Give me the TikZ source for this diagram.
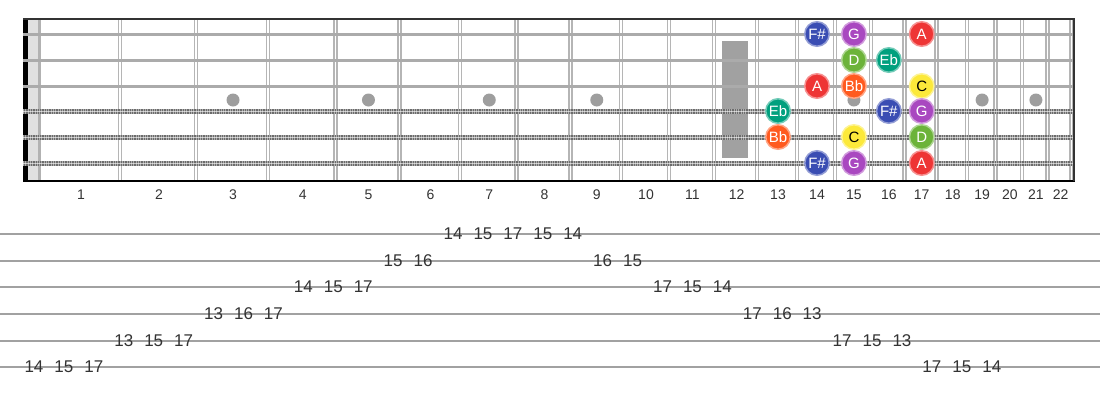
\documentclass[tikz,border=0pt]{standalone}
\usepackage{fontspec}
\setmainfont{Liberation Sans}
\usetikzlibrary{positioning}
\definecolor{noteFs}{HTML}{3A4DB3}
\definecolor{noteG}{HTML}{A948C0}
\definecolor{noteA}{HTML}{EE3535}
\definecolor{noteD}{HTML}{6CB33A}
\definecolor{noteEb}{HTML}{00A07E}
\definecolor{noteBb}{HTML}{FF5A1F}
\definecolor{noteC}{HTML}{FCE93A}
\definecolor{inkgray}{HTML}{333333}

\begin{document}
\begin{tikzpicture}[
		x=1pt, y=-1pt,
		every node/.style={inner sep=0pt, text=inkgray},
		fretnum/.style={font=\fontsize{14}{14}\selectfont},
		tabnum/.style={font=\fontsize{17}{17}\selectfont},
		notedot/.style={circle, minimum size=24.5pt, line width=1.5pt, fill=#1, draw=#1!55!white, text=white, font=\fontsize{15}{15}\selectfont},
		inlay/.style={circle, fill=black!38, minimum size=13pt}
	]
  \useasboundingbox (0,0) rectangle (1100,400);
  \fill[black] (23,19) rectangle (28,181);
  \fill[black!12] (28,19) rectangle (41,181);
  \draw[black!30, line width=3] (39,19) -- (39,181);
  \foreach \n in {1,...,22} {
    \pgfmathsetmacro\fx{40+1434*(1-pow(2,-\n/12))}
    \pgfmathsetmacro\px{40+1434*(1-pow(2,-(\n-1)/12))}
    \draw[black!29, line width=4.5] (\fx,19) -- (\fx,181);
    \draw[white, line width=1.5] (\fx,19) -- (\fx,181);
    \node (fl\n) [fretnum] at ({(\fx+\px)/2+1},195) {\n};
  }
  \foreach \f in {3,5,7,9,15,19,21}
    \node (dot\f) [inlay] at (fl\f |- 0,100) {};
  \fill[black!37] (722,41) rectangle (748,158);
  \foreach \s/\y in {1/34, 2/60, 3/86} {
    \coordinate (s\s) at (0,\y);
    \draw[black!33, line width=3] (23,\y) -- (1073,\y);
  }
  \foreach \s/\y in {4/111, 5/137, 6/163} {
    \coordinate (s\s) at (0,\y);
    \draw[black!58, line width=5] (23,\y) -- (1073,\y);
    \draw[white, line width=5, dash pattern=on 1pt off 1.3pt, opacity=0.45] (23,\y) -- (1073,\y);
    \draw[white, line width=0.8, opacity=0.6] (23,\y) -- (1073,\y);
  }
  \draw[black!80, line width=2.5] (23,19) -- (1075,19);
  \draw[black, line width=2] (23,181) -- (1075,181);
  \draw[black!80, line width=2] (1074,19) -- (1074,181);

  \node (e1f14) [notedot=noteFs] at (fl14 |- s1) {F\#};
  \node (e1f15) [notedot=noteG] at (fl15 |- s1) {G};
  \node (e1f17) [notedot=noteA] at (fl17 |- s1) {A};
  \node (b2f15) [notedot=noteD] at (fl15 |- s2) {D};
  \node (b2f16) [notedot=noteEb] at (fl16 |- s2) {Eb};
  \node (g3f14) [notedot=noteA] at (fl14 |- s3) {A};
  \node (g3f15) [notedot=noteBb] at (fl15 |- s3) {Bb};
  \node (g3f17) [notedot=noteC, text=black] at (fl17 |- s3) {C};
  \node (d4f13) [notedot=noteEb] at (fl13 |- s4) {Eb};
  \node (d4f16) [notedot=noteFs] at (fl16 |- s4) {F\#};
  \node (d4f17) [notedot=noteG] at (fl17 |- s4) {G};
  \node (a5f13) [notedot=noteBb] at (fl13 |- s5) {Bb};
  \node (a5f15) [notedot=noteC, text=black] at (fl15 |- s5) {C};
  \node (a5f17) [notedot=noteD] at (fl17 |- s5) {D};
  \node (e6f14) [notedot=noteFs] at (fl14 |- s6) {F\#};
  \node (e6f15) [notedot=noteG] at (fl15 |- s6) {G};
  \node (e6f17) [notedot=noteA] at (fl17 |- s6) {A};

  \foreach \l/\y in {1/234, 2/261, 3/287, 4/314, 5/341, 6/367} {
    \coordinate (tl\l) at (0,\y);
    \draw[black!37, line width=2] (0,\y) -- (1100,\y);
  }
  \foreach \i/\l/\f in {0/6/14, 1/6/15, 2/6/17, 3/5/13, 4/5/15, 5/5/17, 6/4/13, 7/4/16, 8/4/17,
      9/3/14, 10/3/15, 11/3/17, 12/2/15, 13/2/16, 14/1/14, 15/1/15, 16/1/17, 17/1/15, 18/1/14,
      19/2/16, 20/2/15, 21/3/17, 22/3/15, 23/3/14, 24/4/17, 25/4/16, 26/4/13, 27/5/17, 28/5/15,
      29/5/13, 30/6/17, 31/6/15, 32/6/14} {
    \pgfmathsetmacro\tx{34+29.93*\i}
    \node (tab\i) [tabnum] at (\tx,0 |- tl\l) {\f};
  }
\end{tikzpicture}
\end{document}
